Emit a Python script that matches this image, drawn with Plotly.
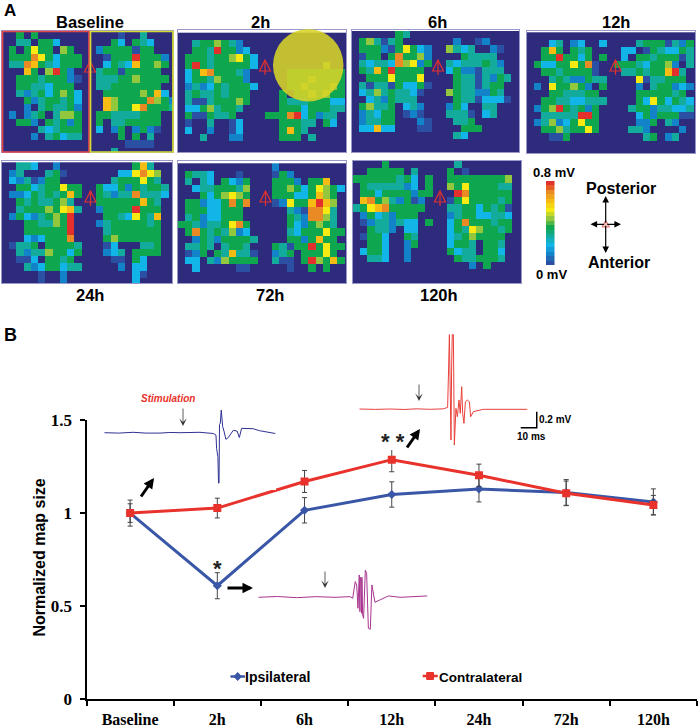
import plotly.graph_objects as go

# ---------- Panel B data ----------
timepoints = ["Baseline", "2h", "6h", "12h", "24h", "72h", "120h"]
ipsilateral = [1.0, 0.61, 1.015, 1.10, 1.13, 1.11, 1.06]
ipsilateral_err = [0.07, 0.07, 0.068, 0.068, 0.07, 0.07, 0.07]
contralateral = [1.0, 1.027, 1.17, 1.287, 1.203, 1.107, 1.043]
contralateral_err = [0.05, 0.053, 0.059, 0.065, 0.06, 0.065, 0.052]

# ---------- EMG traces (ms, mV relative to baseline) ----------
blue_ms = [0, 9, 18, 26, 34.8, 41, 47.3, 54, 59.8, 68.1, 69.8, 70.2, 71, 71.4, 71.7, 72, 72.5, 73.1, 74, 74.8, 76, 77.5, 79, 80.6, 83, 84.4, 85.8, 93, 97, 101.5, 106.9]
blue_mv = [0, -.005, .005, -.005, -.005, .003, 0, .004, .005, -.01, -.03, -.2, -.3, -.63, -.63, .1, .12, .283, .075, .02, -.083, -.06, -.01, .03, .02, -.06, .054, .05, .025, .0125, -.01]
red_ms = [0, 10, 19, 28, 36, 44, 52.5, 55.2, 55.8, 56.3, 56.9, 57.3, 57.7, 58.1, 58.8, 59.4, 60.4, 61.3, 62.3, 63.1, 64, 64.6, 65.4, 66.3, 67.5, 68.8, 69.6, 71.3, 77.5, 85, 95, 105]
red_mv = [0, -.005, 0, -.006, .002, -.004, .002, .02, .5, .93, .154, -.3875, .5, .93, .93, -.45, .008, -.096, .1125, -.054, .279, -.054, -.18, .09, .1125, .09, -.096, -.033, -.004, -.006, 0, -.004]
purple_ms = [0, 12, 24, 36, 48, 57.3, 59, 59.8, 60.6, 61.5, 62.3, 63.1, 63.5, 63.8, 64.2, 64.5, 64.8, 65.2, 65.8, 66.9, 67.7, 68.8, 70, 71, 71.9, 72.9, 76, 81.3, 88.6, 97, 105.6]
purple_mv = [0, .01, -.005, .008, 0, .008, -.012, .07, .196, .154, -.1375, .279, -.18, .25, .2375, -.2, .25, -.22, -.2625, .34, .3, -.3875, -.4, .154, .05, -.0625, -.033, .017, 0, .012, .017]
scalebar_ms = [100.9, 110.9, 110.9]
scalebar_mv = [-.234, -.234, -.034]

# ---------- Panel A data: amplitude level of each cell, in 0.08 mV steps, hex digit, '.' = 0 ----------
map_baseline = [
"..5.5...........1..4",
"..44.553.......53.543",
".5.5755.65...25555155",
".5559753555...1555a5552",
".4498543555...354385565",
"...85.6a52...455155555",
"..555455521..4445565555",
"..55443555...445555555",
"..424535653...555556583",
"...52455453...8655559652",
"...2.454452...8655795554",
".2.245.4665..554444555",
"..552.54525..5.4455555",
".....434555..3.25.2521",
"....2.45344.....5.5.4",
".................1111",
"...............4",
]
map_2h = [
"",
"..4556542",
"..554a5523",
".5554556753",
".5a54555553.........6",
".358955542.....55555555",
".355465552.....55565555",
".2423545553....55655565",
".454454555....5.5565655",
".411455565....544455533",
".33564554.....555355544",
".5115445....5559a35244",
".1..4..13.....55544.53",
".3..2..13.....5854",
"...4...22.....555.4",
]
map_6h = [
"......54",
".564145.......2..12",
".5552157532..6434..21",
".155.595562....54444",
".4344396725..43444542",
".5485a5555...35221444",
"..55575557....54414254",
".4144153351...5441455",
".346454431...65442254",
"..3425444.....54413331",
".56445.342...253..44",
".24355.121...4441.34",
".24455...21...445",
".33833...11....555",
"..............43",
]
map_12h = [
"",
"...34.23..3....45551425",
"..585.545....33.1543354",
"..55a5535.5..3.55455514",
".533557591..555435562.4",
"..55455551...4454558a4",
"...45422544....7144555",
".2.755652.5....2.455232",
"...5544455.....5555545",
"..554433444....53753543",
".256a54525....455244334",
"..44444aa5.....35255511",
".246235755.....225.42",
"..55645575....442....2",
"...115..........45.24",
]
map_24h = [
"..443..2..........584",
".24...451.......337976",
".3241255.......4555754",
"..553455755..5335254554",
".2235454585..5424494443",
"..54544564...555555854",
"..455565784..25555a555",
".25324565a....55437548",
"...554465a...245555545",
"...555555a....45555555",
"...3235559....56555555",
".1445.55554...13...445",
"..424465535...234.5555",
"..113.5545.....11.53",
"...42355344.....2.33",
".....1..2.........31",
".....1..2.........3",
]
map_72h = [
".............2",
".5443...1....152",
".4.43.5325...5552.558",
"..34455546...5565357653",
"...5356765...555335865",
".552335959...127558a86",
".55533555......4219974",
".45233555......5429964",
"5542445795.....5325654",
".595454623.....43555755",
"..254255554....5525855",
".4454.4554...54155a5755",
".125.548441..245.55575",
".33.4265555..411.5a6585",
"..3.....11.....1..5.5",
]
map_120h = [
"....5.........4",
"..55555.4....5.1",
"555555453.5..555555556",
".54444423.5..657555544",
".5535555255...a9555555",
".895642512...157555545",
"4578955555...445535451",
".25342555....245533443",
".12442433.5..359555455",
"..5442.33....354765545",
".1553..54....34565555",
"..553..25....3554.554",
".3553..2.....5344.553",
"..443..2......5445554",
"................2.5",
]
maps = [map_baseline, map_2h, map_6h, map_12h, map_24h, map_72h, map_120h]
panel_titles = ["Baseline", "2h", "6h", "12h", "24h", "72h", "120h"]
scale_levels = [1, 1.5, 2, 2.5, 3, 3.5, 4, 4.5, 5, 5.5, 6, 6.5, 7, 7.5, 8, 8.5, 9, 9.5, 10]

# ---------- Layout constants ----------
W, H = 700, 727
CELL = 7.23
boxes = [(2, 173, 31, 152), (178, 346, 30, 152), (352, 519, 30, 152), (527, 695, 31, 153),
         (2, 172, 161, 283), (178, 346, 161, 283), (353, 521, 161, 283)]
row_shift = [1, 2.7, 1, 1.3, 1.3, 2.3, 0]
title_pos = [(90, 22), (260, 22), (438, 22), (616, 22), (90, 295), (270, 295), (439, 295)]
tri_pos = [(90, 67), (265, 66), (438, 66), (615.5, 66), (90.5, 197), (265.5, 197), (440, 197)]
palette = ["#2f2b7c", "#2b4fa2", "#1283c8", "#12b5e8", "#12ab9c", "#0fa650",
           "#93c83e", "#f6ea12", "#f6bc14", "#e98a24", "#e3302c"]
colorscale = [[i / 10, c] for i, c in enumerate(palette)]
SANS = "Liberation Sans"
SERIF = "Liberation Serif"


def X(px):
    return px / W


def Y(py):
    return 1 - py / H


fig = go.Figure()
layout_axes = {}
shapes = []
anns = []


def text(t, x, y, size, color="black", family=SANS, weight=700, style="normal", angle=0):
    anns.append(dict(text=t, x=X(x), y=Y(y), xref="paper", yref="paper", showarrow=False,
                     xanchor="center", yanchor="middle", textangle=angle,
                     font=dict(size=size, color=color, family=family, weight=weight, style=style)))


def arrow(x0, y0, x1, y1, width=3, color="black", head=2, size=0.7):
    anns.append(dict(text="", x=X(x1), y=Y(y1), xref="paper", yref="paper", showarrow=True,
                     ax=x0 - x1, ay=y0 - y1, arrowhead=head, arrowwidth=width,
                     arrowcolor=color, arrowsize=size))


def poly(points, line_color, fill, width=1):
    path = "M " + " L ".join(f"{X(a)} {Y(b)}" for a, b in points) + " Z"
    shapes.append(dict(type="path", xref="paper", yref="paper", path=path,
                       line=dict(color=line_color, width=width), fillcolor=fill))


# ---------- Heat maps ----------
for i, rows in enumerate(maps):
    n = i + 2
    x0, x1, y0, y1 = boxes[i]
    grid = []
    for r in range(18):
        row = rows[r] if r < len(rows) else ""
        cells = [0 if c == "." else int(c, 16) for c in row]
        grid.append(cells + [0] * (25 - len(cells)))
    fig.add_trace(go.Heatmap(z=grid, zmin=0, zmax=10, colorscale=colorscale, showscale=False,
                             xaxis=f"x{n}", yaxis=f"y{n}", hoverinfo="skip", xgap=0, ygap=0))
    border = "#9a98c8"
    layout_axes[f"xaxis{n}"] = dict(domain=[X(x0), X(x1)], range=[-0.5, -0.5 + (x1 - x0) / CELL],
                                    anchor=f"y{n}", showticklabels=False, ticks="", showgrid=False,
                                    zeroline=False, showline=True, mirror=True, linecolor=border, linewidth=1)
    top = -0.5 - row_shift[i] / CELL
    layout_axes[f"yaxis{n}"] = dict(domain=[Y(y1), Y(y0)], range=[top + (y1 - y0) / CELL, top],
                                    anchor=f"x{n}", showticklabels=False, ticks="", showgrid=False,
                                    zeroline=False, showline=True, mirror=True, linecolor=border, linewidth=1)
    text(panel_titles[i], title_pos[i][0], title_pos[i][1], 16.5)
    tx, ty = tri_pos[i]
    poly([(tx, ty - 6), (tx + 5.5, ty + 5), (tx - 5.5, ty + 5)], "#e2302c", "rgba(0,0,0,0)", 1.2)
    if i > 0:
        shapes.append(dict(type="line", xref="paper", yref="paper", x0=X(tx), x1=X(tx), y0=Y(ty - 6), y1=Y(ty + 9),
                           line=dict(color="#e2302c", width=1.2)))

# Baseline hemisphere boxes and lesion circle
shapes.append(dict(type="rect", xref="paper", yref="paper", x0=X(2.5), x1=X(89), y0=Y(152), y1=Y(31.5),
                   line=dict(color="#e2474a", width=1.7), fillcolor="rgba(0,0,0,0)"))
shapes.append(dict(type="rect", xref="paper", yref="paper", x0=X(90.5), x1=X(173), y0=Y(152), y1=Y(31.5),
                   line=dict(color="#d6da35", width=1.7), fillcolor="rgba(0,0,0,0)"))
shapes.append(dict(type="circle", xref="paper", yref="paper", x0=X(273), x1=X(343.5), y0=Y(101.5), y1=Y(29),
                   line=dict(width=0), fillcolor="rgba(216,212,40,0.88)"))

# ---------- Colour legend ----------
fig.add_trace(go.Heatmap(z=[[v] for v in scale_levels], zmin=0, zmax=10, colorscale=colorscale,
                         showscale=False, xaxis="x9", yaxis="y9", hoverinfo="skip"))
layout_axes["xaxis9"] = dict(domain=[X(546), X(554.5)], visible=False, anchor="y9")
layout_axes["yaxis9"] = dict(domain=[Y(265), Y(181)], visible=False, anchor="x9")
text("0.8 mV", 554, 172.5, 13)
text("0 mV", 551.5, 274, 13)
text("Posterior", 620.5, 188.5, 16)
text("Anterior", 618.5, 262.5, 16)
for ex, ey in [(605.7, 196), (605.7, 253), (590.5, 224.3), (621, 224.3)]:
    arrow(605.7, 224.3, ex, ey, width=1.2, head=2, size=1.1)
poly([(605.7, 220.5), (609.5, 227), (602, 227)], "#e8706c", "#f7c9c0")

# ---------- Main line chart ----------
line_blue, line_red = "#3a56a6", "#e8322b"
fig.add_trace(go.Scatter(x=timepoints, y=ipsilateral, name="Ipsilateral", mode="lines+markers",
                         line=dict(color=line_blue, width=3), marker=dict(symbol="diamond", size=7, color=line_blue),
                         error_y=dict(type="data", array=ipsilateral_err, color="#444444", thickness=1, width=2.5)))
fig.add_trace(go.Scatter(x=timepoints, y=contralateral, name="Contralateral", mode="lines+markers",
                         line=dict(color=line_red, width=3), marker=dict(symbol="square", size=8, color=line_red),
                         error_y=dict(type="data", array=contralateral_err, color="#444444", thickness=1, width=2.5)))
axis_font = dict(size=16, color="black", family=SERIF, weight=700)
layout_axes["xaxis"] = dict(domain=[X(86.5), X(697)], type="category", categoryorder="array", categoryarray=timepoints,
                            range=[-0.5, 6.5], tickson="boundaries", ticks="outside", ticklen=5, tickwidth=2,
                            tickcolor="black", showline=True, linecolor="black", linewidth=2, showgrid=False,
                            zeroline=False, tickfont=axis_font, anchor="y", ticklabelstandoff=4)
layout_axes["yaxis"] = dict(domain=[Y(699.3), Y(420)], range=[0, 1.5], tickvals=[0, 0.5, 1, 1.5],
                            ticktext=["0", "0.5", "1", "1.5"], ticks="outside", ticklen=5, tickwidth=2,
                            tickcolor="black", showline=True, linecolor="black", linewidth=2, showgrid=False,
                            zeroline=False, tickfont=dict(size=17, color="black", family=SERIF, weight=700),
                            anchor="x", ticklabelstandoff=4)
text("Normalized map size", 39, 557.5, 16, angle=-90)
text("A", 10, 10, 17)
text("B", 10, 335, 18)

# Key for the two series
shapes.append(dict(type="line", xref="paper", yref="paper", x0=X(230.5), x1=X(245), y0=Y(676.5), y1=Y(676.5),
                   line=dict(color=line_blue, width=2.5)))
poly([(237.7, 672.5), (241.5, 676.5), (237.7, 680.5), (234, 676.5)], line_blue, line_blue)
shapes.append(dict(type="line", xref="paper", yref="paper", x0=X(422.7), x1=X(437.7), y0=Y(676), y1=Y(676),
                   line=dict(color=line_red, width=2.5)))
poly([(426.7, 672.5), (433.5, 672.5), (433.5, 679.5), (426.7, 679.5)], line_red, line_red)
text("Ipsilateral", 277.5, 677, 14)
text("Contralateral", 480.4, 677, 13.5)

# ---------- EMG insets ----------
def inset(n, ms, mv, color, left, right, baseline, top, bottom, width=1):
    fig.add_trace(go.Scatter(x=ms, y=mv, mode="lines", line=dict(color=color, width=width),
                             xaxis=f"x{n}", yaxis=f"y{n}", showlegend=False, hoverinfo="skip"))
    layout_axes[f"xaxis{n}"] = dict(domain=[X(left), X(right)], range=[0, (right - left) / 1.6],
                                    visible=False, anchor=f"y{n}")
    layout_axes[f"yaxis{n}"] = dict(domain=[Y(bottom), Y(top)],
                                    range=[(baseline - bottom) / 80, (baseline - top) / 80],
                                    visible=False, anchor=f"x{n}")


inset(10, blue_ms, blue_mv, "#2e3192", 104.3, 276, 432.7, 400, 490)
inset(11, red_ms, red_mv, "#e8413c", 359.3, 540, 409, 330, 450)
inset(12, purple_ms, purple_mv, "#a8348f", 258.3, 428, 597.3, 560, 635)
fig.add_trace(go.Scatter(x=scalebar_ms, y=scalebar_mv, mode="lines", line=dict(color="black", width=1.5),
                         xaxis="x11", yaxis="y11", showlegend=False, hoverinfo="skip"))

text("Stimulation", 168, 398, 10, color="#e8322b", style="italic")
text("0.2 mV", 555, 419, 10)
text("10 ms", 531.5, 436, 10)
text("*", 217.5, 568, 22, color="#222222")
text("* *", 392.5, 441, 22, color="#222222")
arrow(140, 498, 154, 478)
arrow(226, 588, 253, 588)
arrow(406, 449, 420, 429)
arrow(183, 407, 183, 426, width=0.8, color="#333333", head=3, size=1.6)
arrow(325, 570, 325, 588, width=0.8, color="#333333", head=3, size=1.6)
arrow(419, 383, 419, 401, width=0.8, color="#333333", head=3, size=1.6)

fig.update_layout(
    width=W, height=H, autosize=False, margin=dict(l=0, r=0, t=0, b=0, autoexpand=False),
    paper_bgcolor="white", plot_bgcolor="white", shapes=shapes, annotations=anns,
    showlegend=False,
    **layout_axes,
)
fig.write_html("out.html", config={"displayModeBar": False}, post_script="document.body.style.margin='0';")
